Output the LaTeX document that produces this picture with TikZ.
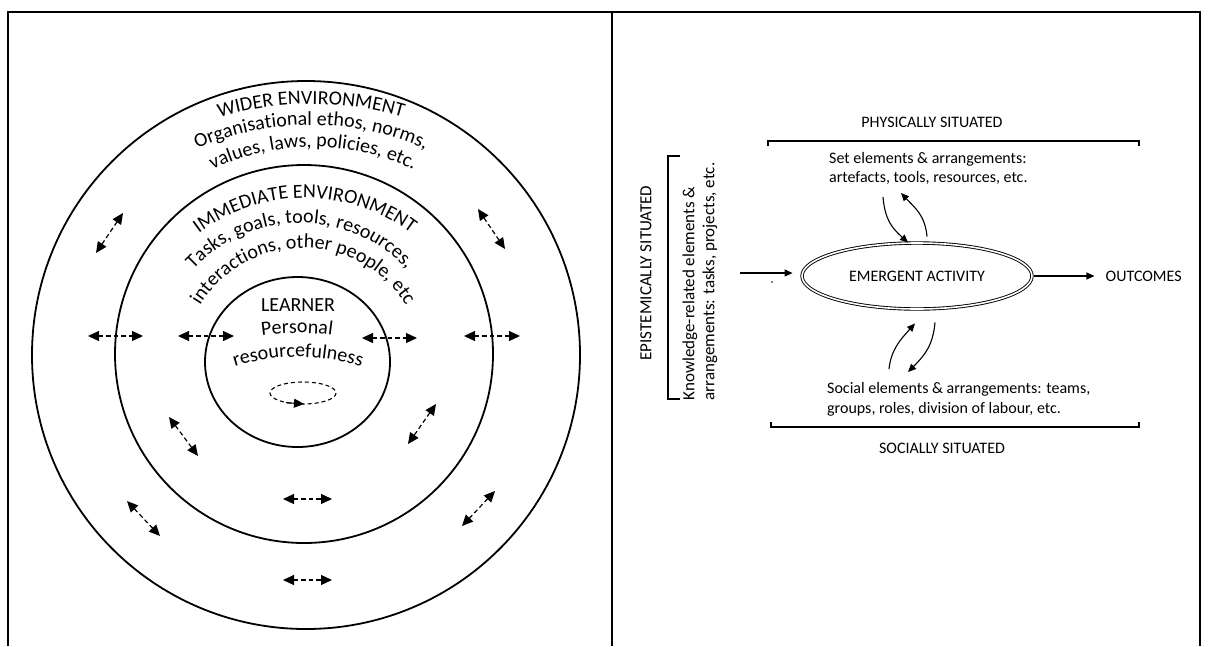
\documentclass[tikz,border=0pt]{standalone}
\usepackage{fontspec}
\setmainfont{Carlito}
\usetikzlibrary{shapes.geometric, arrows.meta, positioning, decorations.text}

\newcommand\ringfont{\fontsize{20}{24}\selectfont}
\newcommand\sidefont{\fontsize{16}{19.5}\selectfont}
\newcommand\turnfont{\fontsize{17}{20}\selectfont}

\begin{document}
\begin{tikzpicture}[x=1pt, y=-1pt,
    frame/.style={line width=2pt},
    ring/.style={line width=1.8pt},
    link/.style={line width=1.2pt, dash pattern=on 4.5pt off 3pt,
      {Triangle[length=11pt,width=10pt]}-{Triangle[length=11pt,width=10pt]}},
    flow/.style={line width=1.1pt, -{Triangle[length=8pt,width=7pt]}},
    brace/.style={line width=1.4pt},
    lbl/.style={font=\sidefont, inner sep=0pt},
    arch/.style={decorate, decoration={text along path, text align=center,
      text={|\ringfont|#1}}}
  ]
  \useasboundingbox (0,0) rectangle (1209,646);

  \draw[frame] (8,646) -- (8,12) -- (1200,12) -- (1200,646);
  \draw[frame] (612,12) -- (612,646);

  % left panel
  \draw[ring] (306,355) circle[radius=274];
  \draw[ring] (304,354) circle[radius=189];
  \draw[ring] (297.5,362) ellipse[x radius=92.5, y radius=85];

  \path[arch={WIDER ENVIRONMENT}] (311,426) ++(230:322) arc[start angle=230, end angle=310, radius=322];
  \path[arch={Organisational ethos, norms,}] (311,408) ++(230:283) arc[start angle=230, end angle=310, radius=283];
  \path[arch={values, laws, policies, etc.}] (313,380) ++(225:233) arc[start angle=225, end angle=315, radius=233];
  \path[arch={IMMEDIATE ENVIRONMENT}] (305,374) ++(200:176) arc[start angle=200, end angle=340, radius=176];
  \path[arch={Tasks, goals, tools, resources,}] (300,369) ++(190:146) arc[start angle=190, end angle=350, radius=146];
  \path[arch={interactions, other people, etc}] (303,369) ++(180:121) arc[start angle=180, end angle=360, radius=121];

  \node[font=\ringfont, anchor=base, inner sep=0pt] (learner) at (298,311) {LEARNER};
  \path[arch={Personal}] (297,583) ++(240:250) arc[start angle=240, end angle=300, radius=250];
  \path[arch={resourcefulness}] (298,563) ++(235:206) arc[start angle=235, end angle=305, radius=206];

  \draw[line width=1.1pt, dash pattern=on 4pt off 3pt] (303,393) ellipse[x radius=33, y radius=11];
  \draw[line width=1.1pt, -{Triangle[length=10pt,width=9pt]}] (286,402.6) -- (304,404);

  \draw[link] (96,253) -- (123,213);
  \draw[link] (478,209) -- (505,249);
  \draw[link] (88,336) -- (143,336);
  \draw[link] (178,336) -- (234,336);
  \draw[link] (362,338) -- (417,338);
  \draw[link] (464,336) -- (520,336);
  \draw[link] (169,417) -- (198,456);
  \draw[link] (436,404) -- (408,444);
  \draw[link] (283,499) -- (332,499);
  \draw[link] (127,501) -- (160,536);
  \draw[link] (495,491) -- (462,526);
  \draw[link] (283,580) -- (332,580);

  % right panel
  \node[draw, ellipse, double, double distance=1.6pt, line width=0.9pt,
    minimum width=230pt, minimum height=66pt, inner sep=0pt, font=\sidefont] (act) at (917,276) {EMERGENT ACTIVITY};
  \node[lbl, right=73pt of act] (out) {OUTCOMES};

  \node[lbl, anchor=base] (phys) at (932,127) {PHYSICALLY SITUATED};
  \node[lbl, anchor=base west, align=left] (setel) at (829,182.5) {Set elements \& arrangements:\\artefacts, tools, resources, etc.};
  \node[lbl, anchor=base west, align=left] (soc) at (827,413) {Social elements \& arrangements: teams,\\groups, roles, division of labour, etc.};
  \node[lbl, anchor=base] (socl) at (942,453) {SOCIALLY SITUATED};
  \node[lbl, rotate=90, font=\turnfont] (epi) at (646,273) {EPISTEMICALLY SITUATED};
  \node[lbl, rotate=90, align=left, font=\turnfont] (know) at (700,281.5) {Knowledge-related elements \&\\arrangements: tasks, projects, etc.};
  \node[circle, fill, inner sep=0.6pt] (dot) at (772,282) {};

  \draw[brace] (768,146) -- (768,141) -- (1139,141) -- (1139,146);
  \draw[brace] (771,422) -- (771,427) -- (1139,427) -- (1139,422);
  \draw[brace] (680,156) -- (668,156) -- (668,399) -- (680,399);

  \coordinate (kin) at (740,273);
  \coordinate (up1) at (883,197);
  \coordinate (up2) at (901,193);
  \coordinate (dn1) at (889,369);
  \coordinate (dn2) at (908,372);

  \draw[flow, shorten >=9pt] (kin) -- (kin -| act.west);
  \draw[flow, shorten <=2pt, shorten >=11pt] (act.east) -- (out.west);
  \draw[flow] (up1) .. controls (885,220) and (892,228) .. ([xshift=-9pt]act.north);
  \draw[flow] ([xshift=10pt, yshift=6pt]act.north) .. controls (925,215) and (915,208) .. (up2);
  \draw[flow] (dn1) .. controls (891,350) and (900,340) .. ([xshift=-2pt, yshift=-14pt]act.south);
  \draw[flow] ([xshift=18pt, yshift=-13pt]act.south) .. controls (933,345) and (925,355) .. (dn2);
\end{tikzpicture}
\end{document}
